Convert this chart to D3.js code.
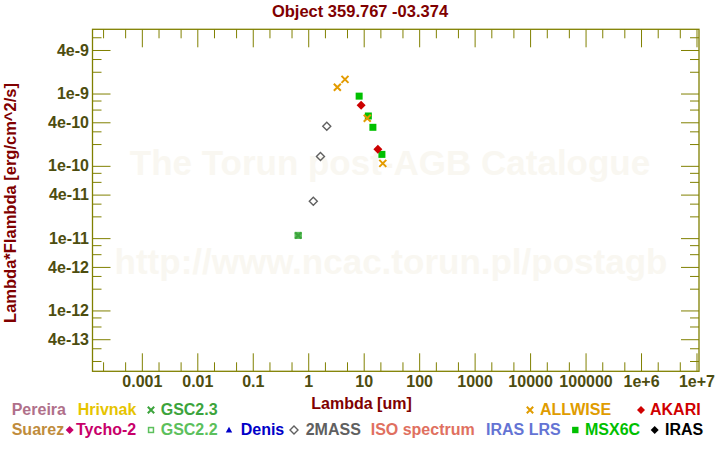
<!DOCTYPE html>
<html>
<head>
<meta charset="utf-8">
<script src="https://cdn.jsdelivr.net/npm/d3@7"></script>
<style>
  html, body { margin: 0; padding: 0; background: #fff; }
  svg { display: block; }
  text { font-family: "Liberation Sans", Arial, sans-serif; font-weight: bold; }
</style>
</head>
<body>
<div id="chart"></div>
<script>
// ---------------- data ----------------
const titleText = "Object 359.767 -03.374";
const xTitle = "Lambda [um]";
const yTitle = "Lambda*Flambda [erg/cm^2/s]";
const watermark1 = "The Torun post-AGB Catalogue";
const watermark2 = "http://www.ncac.torun.pl/postagb";

// photometry: wavelength [um], lambda*F_lambda [erg/cm^2/s]
const allwiseLambda = [3.35, 4.6, 11.6, 22.1];
const allwiseFlux   = [1.22e-9, 1.57e-9, 4.54e-10, 1.08e-10];
const msxLambda = [8.28, 12.13, 14.65, 21.3];
const msxFlux   = [9.2e-10, 4.89e-10, 3.41e-10, 1.44e-10];
const akariLambda = [9.0, 18.0];
const akariFlux   = [6.87e-10, 1.69e-10];
const twomassLambda = [1.235, 1.662, 2.159];
const twomassFlux   = [3.23e-11, 1.35e-10, 3.52e-10];
const gsc22Lambda = [0.66];
const gsc22Flux   = [1.09e-11];
const gsc23Lambda = [0.66];
const gsc23Flux   = [1.09e-11];

// axis ticks
const xMajorTicks = [1e-3, 1e-2, 1e-1, 1, 10, 100, 1000, 1e4, 1e5, 1e6, 1e7];
const xTickLabels = ["0.001", "0.01", "0.1", "1", "10", "100", "1000", "10000", "100000", "1e+6", "1e+7"];
const xMinorTicks = [2e-4, 5e-4, 2e-3, 5e-3, 2e-2, 5e-2, 0.2, 0.5, 2, 5, 20, 50, 200, 500, 2000, 5000, 2e4, 5e4, 2e5, 5e5, 2e6, 5e6];
const yMajorTicks = [4e-9, 1e-9, 4e-10, 1e-10, 4e-11, 1e-11, 4e-12, 1e-12, 4e-13];
const yTickLabels = ["4e-9", "1e-9", "4e-10", "1e-10", "4e-11", "1e-11", "4e-12", "1e-12", "4e-13"];
const yMinorTicks = [6e-9, 3e-9, 2e-9, 8e-10, 6e-10, 3e-10, 2e-10, 8e-11, 6e-11, 3e-11, 2e-11, 8e-12, 6e-12, 3e-12, 2e-12, 8e-13, 6e-13, 3e-13, 2e-13];

// legend
const legendNames   = ["Pereira", "Hrivnak", "GSC2.3", "ALLWISE", "AKARI",
                       "Suarez", "Tycho-2", "GSC2.2", "Denis", "2MASS", "ISO spectrum", "IRAS LRS", "MSX6C", "IRAS"];
const legendColors  = ["#b0708a", "#e6c400", "#3ca43c", "#e09c00", "#d00000",
                       "#c08c3c", "#c8006a", "#5cc05c", "#0000c8", "#606060", "#e07060", "#6474d4", "#00c000", "#000000"];
const legendSymbols = ["none", "none", "cross", "cross", "diamond",
                       "none", "diamond", "squareOpen", "triangle", "diamondOpen", "none", "none", "square", "diamond"];

// ---------------- layout ----------------
const W = 720, H = 450;
const plot = { left: 92.5, right: 699, top: 29.3, bottom: 371.3 };
const legendTextX = [11.7, 77.7, 160.7, 540, 650, 11.7, 76, 160.7, 240.7, 305.7, 370.7, 486, 585, 665];
const legendMarkX = [0, 0, 151, 530, 641, 0, 69.7, 151, 229, 294, 0, 0, 575.3, 654.7];
const legendRow   = [0, 0, 0, 0, 0, 1, 1, 1, 1, 1, 1, 1, 1, 1];
const rowBase = [415, 435];
const rowMark = [410, 430];

const axisColor = "#808000";
const labelColor = "#4d4d0f";
const titleColor = "#800000";

const svg = d3.select("#chart").append("svg").attr("width", W).attr("height", H);

const x = d3.scaleLog().domain([1.29e-4, 1.11e7]).range([plot.left, plot.right]);
const y = d3.scaleLog().domain([1.44e-13, 7.73e-9]).range([plot.bottom, plot.top]);

// watermark
const wm = svg.append("g").attr("fill", "#f9f7f1").style("font-size", "35px").attr("text-anchor", "middle");
wm.append("text").attr("x", 390).attr("y", 175).text(watermark1);
wm.append("text").attr("x", 391).attr("y", 274).text(watermark2);

// axes
function styleAxis(g) {
  g.select(".domain").remove();
  g.selectAll(".tick line").attr("stroke", axisColor).attr("stroke-width", 1);
  g.selectAll(".tick text").attr("fill", labelColor).style("font-size", "16px")
    .style("font-family", '"Liberation Sans", Arial, sans-serif').style("font-weight", "bold");
}
const xLabelFmt = v => xTickLabels[xMajorTicks.indexOf(v)];
const yLabelFmt = v => yTickLabels[yMajorTicks.indexOf(v)];

svg.append("g").attr("transform", `translate(0,${plot.bottom})`)
  .call(d3.axisBottom(x).tickValues(xMajorTicks).tickFormat(xLabelFmt).tickSize(-18).tickPadding(4.5)).call(styleAxis);
svg.append("g").attr("transform", `translate(0,${plot.bottom})`)
  .call(d3.axisBottom(x).tickValues(xMinorTicks).tickFormat("").tickSize(-9)).call(styleAxis);
svg.append("g").attr("transform", `translate(0,${plot.top})`)
  .call(d3.axisTop(x).tickValues(xMajorTicks).tickFormat("").tickSize(-18)).call(styleAxis);
svg.append("g").attr("transform", `translate(0,${plot.top})`)
  .call(d3.axisTop(x).tickValues(xMinorTicks).tickFormat("").tickSize(-9)).call(styleAxis);

svg.append("g").attr("transform", `translate(${plot.left},0)`)
  .call(d3.axisLeft(y).tickValues(yMajorTicks).tickFormat(yLabelFmt).tickSize(-18).tickPadding(3.5)).call(styleAxis);
svg.append("g").attr("transform", `translate(${plot.left},0)`)
  .call(d3.axisLeft(y).tickValues(yMinorTicks).tickFormat("").tickSize(-9)).call(styleAxis);
svg.append("g").attr("transform", `translate(${plot.right},0)`)
  .call(d3.axisRight(y).tickValues(yMajorTicks).tickFormat("").tickSize(-18)).call(styleAxis);
svg.append("g").attr("transform", `translate(${plot.right},0)`)
  .call(d3.axisRight(y).tickValues(yMinorTicks).tickFormat("").tickSize(-9)).call(styleAxis);

svg.append("rect").attr("x", plot.left).attr("y", plot.top)
  .attr("width", plot.right - plot.left).attr("height", plot.bottom - plot.top)
  .attr("fill", "none").attr("stroke", axisColor).attr("stroke-width", 1.3);

// titles
svg.append("text").attr("x", 360).attr("y", 17).attr("text-anchor", "middle")
  .attr("fill", titleColor).style("font-size", "16.5px").text(titleText);
svg.append("text").attr("x", 361.5).attr("y", 409).attr("text-anchor", "middle")
  .attr("fill", titleColor).style("font-size", "16px").text(xTitle);
svg.append("text").attr("transform", "translate(16,203) rotate(-90)").attr("text-anchor", "middle")
  .attr("fill", titleColor).style("font-size", "16.5px").text(yTitle);

// marker drawing
function drawMarker(g, type, cx, cy, color, s) {
  if (type === "cross") {
    g.append("path").attr("d", `M${cx - s},${cy - s}L${cx + s},${cy + s}M${cx - s},${cy + s}L${cx + s},${cy - s}`)
      .attr("stroke", color).attr("stroke-width", 2).attr("fill", "none");
  } else if (type === "diamond") {
    g.append("path").attr("d", `M${cx},${cy - s}L${cx + s},${cy}L${cx},${cy + s}L${cx - s},${cy}Z`).attr("fill", color);
  } else if (type === "diamondOpen") {
    g.append("path").attr("d", `M${cx},${cy - s}L${cx + s},${cy}L${cx},${cy + s}L${cx - s},${cy}Z`)
      .attr("fill", "none").attr("stroke", color).attr("stroke-width", 1.4);
  } else if (type === "square") {
    g.append("rect").attr("x", cx - s).attr("y", cy - s).attr("width", 2 * s).attr("height", 2 * s).attr("fill", color);
  } else if (type === "squareOpen") {
    g.append("rect").attr("x", cx - s + 0.75).attr("y", cy - s + 0.75).attr("width", 2 * s - 1.5).attr("height", 2 * s - 1.5)
      .attr("fill", "none").attr("stroke", color).attr("stroke-width", 1.5);
  } else if (type === "triangle") {
    g.append("path").attr("d", `M${cx},${cy - s}L${cx + s},${cy + s * 0.8}L${cx - s},${cy + s * 0.8}Z`).attr("fill", color);
  }
}

// data points
const pts = svg.append("g");
function series(lams, fluxes, type, color, s, extraFill) {
  lams.forEach((l, i) => {
    if (extraFill) {
      pts.append("rect").attr("x", x(l) - s).attr("y", y(fluxes[i]) - s).attr("width", 2 * s).attr("height", 2 * s).attr("fill", extraFill);
    }
    drawMarker(pts, type, x(l), y(fluxes[i]), color, s);
  });
}
series(gsc22Lambda, gsc22Flux, "squareOpen", "#5cc05c", 3.5, "#55b455");
series(gsc23Lambda, gsc23Flux, "cross", "#3ca43c", 3, null);
series(twomassLambda, twomassFlux, "diamondOpen", "#606060", 4, null);
series(msxLambda, msxFlux, "square", "#00c000", 3.5, null);
series(akariLambda, akariFlux, "diamond", "#cc0000", 4.5, null);
series(allwiseLambda, allwiseFlux, "cross", "#e39b00", 3.5, null);

// legend
const lg = svg.append("g");
legendNames.forEach((name, i) => {
  const r = legendRow[i];
  if (legendSymbols[i] !== "none") {
    const sz = legendSymbols[i] === "cross" ? 3.2 : (legendSymbols[i].startsWith("diamond") ? 4 : 3.2);
    drawMarker(lg, legendSymbols[i], legendMarkX[i], rowMark[r], legendColors[i], sz);
  }
  lg.append("text").attr("x", legendTextX[i]).attr("y", rowBase[r]).attr("fill", legendColors[i])
    .style("font-size", "16px").text(name);
});
</script>
</body>
</html>
